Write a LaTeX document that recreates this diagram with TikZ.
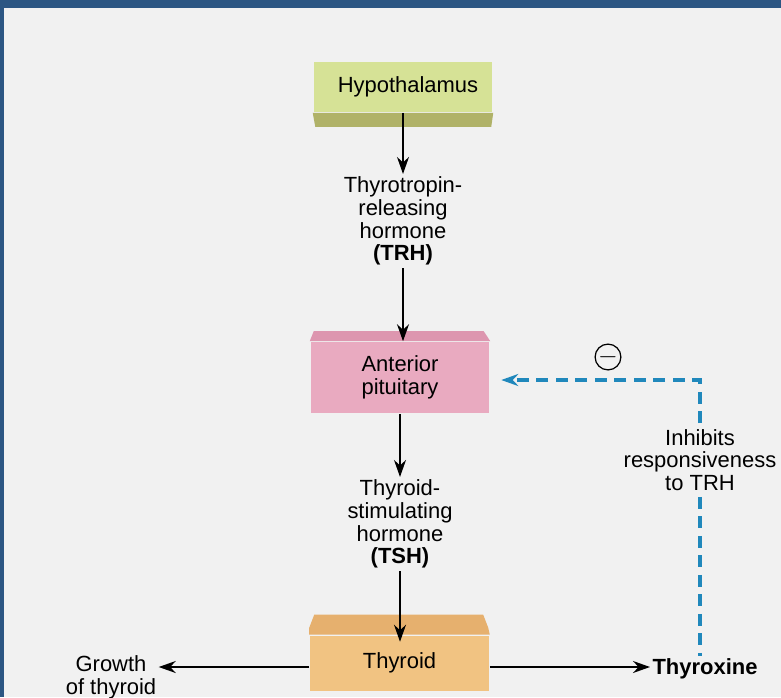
\documentclass[tikz,border=0pt]{standalone}
\usepackage{fontspec}
\setmainfont{Liberation Sans}
\usepackage{xcolor}
\usetikzlibrary{arrows.meta}

\definecolor{frameblue}{RGB}{44,86,131}
\definecolor{paper}{RGB}{241,241,241}
\definecolor{hypface}{RGB}{214,226,150}
\definecolor{hypside}{RGB}{176,178,104}
\definecolor{pitface}{RGB}{233,170,192}
\definecolor{pitside}{RGB}{221,150,175}
\definecolor{thyface}{RGB}{241,195,130}
\definecolor{thyside}{RGB}{230,176,110}
\definecolor{fbblue}{RGB}{32,136,188}

\newcommand\lblfont{\fontsize{12.5}{13}\selectfont}

\tikzset{
  block/.style={minimum width=3.58cm,inner sep=0pt,align=center,font=\lblfont},
  lbl/.style={align=center,inner sep=1pt,font=\lblfont},
  fb/.style={fbblue,line width=2pt,dash pattern=on 0.24cm off 0.15cm},
}

\begin{document}
\begin{tikzpicture}[x=0.02cm,y=-0.02cm,>={Stealth[length=3.4mm,width=2.4mm]},line width=0.9pt]
  \clip (0,0) rectangle (781,697);
  \fill[frameblue] (0,0) rectangle (781,697);
  \fill[paper] (4,8) rectangle (781,697);
  % blocks
  \node[block,fill=hypface,minimum height=1cm] (hyp) at (403,87) {\hspace{0.2cm}Hypothalamus};
  \fill[hypside] (hyp.south west) -- (hyp.south east) -- ++(-2,14) -- ++(-176,0) -- cycle;
  \node[block,fill=pitface,minimum height=1.42cm] (pit) at (400,377.5) {Anterior\\pituitary};
  \fill[pitside] (pit.north west) -- ++(4,-10) -- ++(170,0) -- (pit.north east) -- cycle;
  \node[block,fill=thyface,minimum height=1.1cm] (thy) at (399.5,663) {Thyroid};
  \fill[thyside] (thy.north west) -- ++(0,-7) -- ++(5,-13) -- ++(169,0) -- ++(5,13) -- (thy.north east) -- cycle;
  % labels
  \node[lbl] (trh) at (403,221) {Thyrotropin-\\releasing\\hormone\\\textbf{(TRH)}};
  \node[lbl] (tsh) at (400,524) {Thyroid-\\stimulating\\hormone\\\textbf{(TSH)}};
  \node[lbl,inner ysep=3pt] (inh) at (700,460) {Inhibits\\responsiveness\\to TRH};
  \node[lbl] (grw) at (111,677) {Growth\\of thyroid};
  \node[lbl,anchor=west,font=\bfseries\lblfont] (thx) at (650,669) {Thyroxine};
  \node[circle,draw,line width=0.7pt,minimum size=0.48cm,inner sep=0pt,font=\Large] (neg) at (608,357) {$-$};
  % arrows
  \coordinate (thyin) at ([yshift=-0.14cm]thy.north);
  \coordinate (thyline) at (400,667);
  \coordinate (fbturn) at (700,380);
  \draw[->] (hyp.south) -- (trh.north);
  \draw[->] (trh.south) -- (trh.south |- pit.north);
  \draw[->] (pit.south) -- (tsh.north);
  \draw[->] (tsh.south) -- (tsh.south |- thyin);
  \draw[->] (thy.west |- thyline) -- (grw.east |- thyline);
  \draw[->] (thy.east |- thyline) -- (thx.west |- thyline);
  % feedback
  \draw[fb] (inh.south) -- (inh.south |- thx.north);
  \draw[fb,->,shorten >=0.22cm] (inh.north) -- (fbturn) -- (pit.east |- fbturn);
\end{tikzpicture}
\end{document}
